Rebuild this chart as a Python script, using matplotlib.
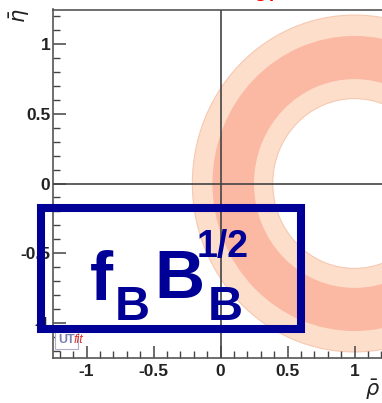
import matplotlib
matplotlib.use("Agg")
import matplotlib.pyplot as plt
from matplotlib.patches import Wedge, Rectangle
from matplotlib.ticker import MultipleLocator, FuncFormatter

# Delta m_d constraint ring, centred at (rho, eta) = (1, 0)
ring_center = (1.0, 0.0)
light_band = [1.21, 0.61]   # outer / inner radius (95% region)
dark_band = [1.06, 0.75]    # outer / inner radius (68% region)
major_ticks = [-1, -0.5, 0, 0.5, 1]

navy = "#000096"
W, H = 382, 403

plt.rcParams["font.family"] = ["Liberation Sans", "DejaVu Sans"]

fig = plt.figure(figsize=(W / 100, H / 100), dpi=100)
ax = fig.add_axes([53 / W, (H - 357.5) / H, 335 / W, 348 / H])
ax.set_xlim(-1.25, 1.25)
ax.set_ylim(-1.25, 1.25)

ax.add_patch(Wedge(ring_center, light_band[0], 0, 360,
                   width=light_band[0] - light_band[1],
                   fc="#fddecb", ec="#f6c8b0", lw=0.8, zorder=1))
ax.add_patch(Wedge(ring_center, dark_band[0], 0, 360,
                   width=dark_band[0] - dark_band[1],
                   fc="#fbb9a3", ec="none", zorder=2))

ax.axhline(0, color="#444444", lw=1.2, zorder=3)
ax.axvline(0, color="#444444", lw=1.2, zorder=3)

ax.xaxis.set_major_locator(MultipleLocator(0.5))
ax.yaxis.set_major_locator(MultipleLocator(0.5))
ax.xaxis.set_minor_locator(MultipleLocator(0.1))
ax.yaxis.set_minor_locator(MultipleLocator(0.1))
fmt = FuncFormatter(lambda v, p: ("%g" % v) if round(v, 3) in major_ticks else "")
ax.xaxis.set_major_formatter(fmt)
ax.yaxis.set_major_formatter(fmt)
ax.tick_params(which="major", direction="in", length=9, width=1.1, color="#444444",
               labelsize=12.5, pad=3)
ax.tick_params(which="minor", direction="in", length=5, width=1.0, color="#444444")
ax.tick_params(axis="x", which="both", top=False, pad=5)
ax.tick_params(axis="y", which="both", right=False, pad=2)
for lab in ax.get_xticklabels() + ax.get_yticklabels():
    lab.set_fontweight("bold")
    lab.set_color("#222222")
for s in ax.spines.values():
    s.set_color("#555555")
    s.set_linewidth(1.2)

# axis labels
fig.text(20 / W, 1 - 16 / H, r"$\bar{\eta}$", rotation=90, fontsize=15,
         ha="center", va="center", color="#222222")
fig.text(373 / W, 1 - 390 / H, r"$\bar{\rho}$", fontsize=15,
         ha="center", va="center", color="#222222")

# red title, lying almost entirely above the visible area
fig.text(266 / W, 1 - 1 / H, "UT", color="red", fontsize=13, weight="bold",
         ha="center", va="baseline")

# UTfit logo box
fig.text(58 / W, 1 - 343 / H, "UT", color="#7a7fb0", fontsize=9, weight="bold",
         ha="left", va="baseline",
         bbox=dict(boxstyle="square,pad=0.25", fc="white", ec="#b0b0c8", lw=0.8))
fig.text(74 / W, 1 - 343 / H, "fit", color="#e03030", fontsize=9, style="italic",
         ha="left", va="baseline")

# overlay label with frame
fig.add_artist(Rectangle((41 / W, (H - 329) / H), 260 / W, 121 / H,
                         transform=fig.transFigure, fill=False, ec=navy,
                         lw=5.8, joinstyle="miter", zorder=10))
txt = dict(color=navy, weight="bold", ha="left", va="baseline", zorder=11)
fig.text(90 / W, 1 - 300 / H, "f", fontsize=50, **txt)
fig.text(115 / W, 1 - 320 / H, "B", fontsize=35, **txt)
fig.text(154 / W, 1 - 298 / H, "B", fontsize=50, **txt)
fig.text(197 / W, 1 - 257 / H, "1/2", fontsize=27, **txt)
fig.text(208 / W, 1 - 320 / H, "B", fontsize=35, **txt)

fig.savefig("out.png", dpi=100)
